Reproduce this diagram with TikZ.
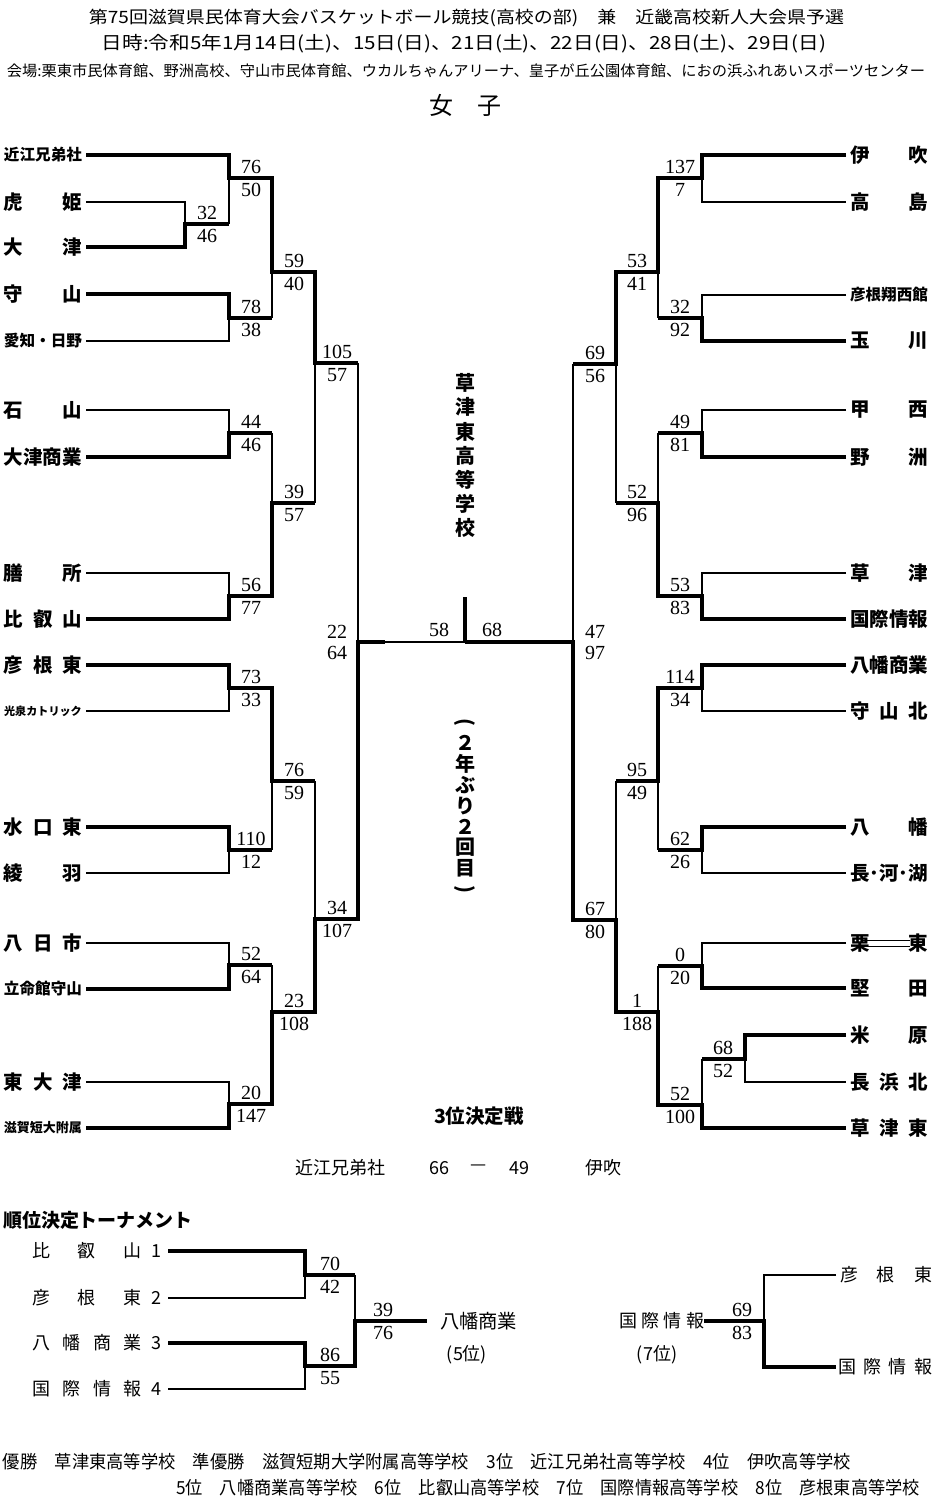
\documentclass[tikz,border=0pt]{standalone}
\usepackage{fontspec}
\usepackage{graphicx}
\setmainfont{Noto Sans CJK JP}
\newfontfamily\scf{Liberation Serif}
\newcommand{\spr}[1]{\makebox[78pt][s]{#1}}
\newcommand{\ctr}[1]{\makebox[78pt]{#1}}
\newcommand{\scr}[5]{\node[sc] (#1a) at (#2,#3-11) {#4}; \node[sc] (#1b) at (#2,#3+12) {#5};}
\begin{document}
\begin{tikzpicture}[x=1pt,y=-1pt,
  every node/.style={inner sep=0pt, outer sep=0pt},
  sc/.style={font=\scf\fontsize{20}{20}\selectfont},
  nm/.style={anchor=west, outer xsep=4pt, font=\bfseries\fontsize{19.5}{20}\selectfont},
  br/.style={line width=1.2pt},
  win/.style={line width=4pt},
  vt/.style={font=\bfseries\fontsize{20}{20}\selectfont},
  sm/.style={font=\fontsize{18}{18}\selectfont}]
\fill[white] (0,0) rectangle (932,1500);
\useasboundingbox (0,0) rectangle (932,1500);

% header
\node (h1) at (466.5,18) {\resizebox{755pt}{\height}{\fontsize{17}{17}\selectfont 第75回滋賀県民体育大会バスケットボール競技(高校の部)　兼　近畿高校新人大会県予選}};
\node (h2) at (464,44) {\resizebox{724pt}{\height}{\fontsize{18}{18}\selectfont 日時:令和5年1月14日(土)、15日(日)、21日(土)、22日(日)、28日(土)、29日(日)}};
\node (h3) at (466,71) {\resizebox{918pt}{\height}{\fontsize{15}{15}\selectfont 会場:栗東市民体育館、野洲高校、守山市民体育館、ウカルちゃんアリーナ、皇子が丘公園体育館、におの浜ふれあいスポーツセンター}};
\node (h4) at (465,105) {\fontsize{24}{24}\selectfont 女　子};

% left names
\node[nm] (L1) at (0,155) {\ctr{\fontsize{15.6}{16}\selectfont 近江兄弟社}};
\node[nm] (L2) at (0,202) {\spr{虎\hfill 姫}};
\node[nm] (L3) at (0,247) {\spr{大\hfill 津}};
\node[nm] (L4) at (0,294) {\spr{守\hfill 山}};
\node[nm] (L5) at (0,341) {\ctr{\fontsize{15.6}{16}\selectfont 愛知・日野}};
\node[nm] (L6) at (0,410) {\spr{石\hfill 山}};
\node[nm] (L7) at (0,457) {\ctr{大津商業}};
\node[nm] (L8) at (0,573) {\spr{膳\hfill 所}};
\node[nm] (L9) at (0,619) {\spr{比\hfill 叡\hfill 山}};
\node[nm] (L10) at (0,665) {\spr{彦\hfill 根\hfill 東}};
\node[nm] (L11) at (0,711) {\ctr{\fontsize{11.1}{12}\selectfont 光泉カトリック}};
\node[nm] (L12) at (0,827) {\spr{水\hfill 口\hfill 東}};
\node[nm] (L13) at (0,873) {\spr{綾\hfill 羽}};
\node[nm] (L14) at (0,943) {\spr{八\hfill 日\hfill 市}};
\node[nm] (L15) at (0,989) {\ctr{\fontsize{15.6}{16}\selectfont 立命館守山}};
\node[nm] (L16) at (0,1082) {\spr{東\hfill 大\hfill 津}};
\node[nm] (L17) at (0,1128) {\ctr{\fontsize{13}{14}\selectfont 滋賀短大附属}};

% right names
\node[nm] (R1) at (846,155) {\spr{伊\hfill 吹}};
\node[nm] (R2) at (846,202) {\spr{高\hfill 島}};
\node[nm] (R3) at (846,295) {\ctr{\fontsize{15.6}{16}\selectfont 彦根翔西館}};
\node[nm] (R4) at (846,341) {\spr{玉\hfill 川}};
\node[nm] (R5) at (846,410) {\spr{甲\hfill 西}};
\node[nm] (R6) at (846,457) {\spr{野\hfill 洲}};
\node[nm] (R7) at (846,573) {\spr{草\hfill 津}};
\node[nm] (R8) at (846,619) {\ctr{国際情報}};
\node[nm] (R9) at (846,665) {\ctr{八幡商業}};
\node[nm] (R10) at (846,711) {\spr{守\hfill 山\hfill 北}};
\node[nm] (R11) at (846,827) {\spr{八\hfill 幡}};
\node[nm] (R12) at (846,873) {\spr{長\hfill ･\hfill 河\hfill ･\hfill 湖}};
\node[nm] (R13) at (846,943) {\spr{栗\hfill 東}};
\node[nm] (R14) at (846,988) {\spr{堅\hfill 田}};
\node[nm] (R15) at (846,1035) {\spr{米\hfill 原}};
\node[nm] (R16) at (846,1082) {\spr{長\hfill 浜\hfill 北}};
\node[nm] (R17) at (846,1128) {\spr{草\hfill 津\hfill 東}};

% ---------- left bracket (thin) ----------
\draw[br] (L2.east) -- (185,202) -- (185,247) -- (L3.east);
\draw[br] (185,224) -- (229,224);
\draw[br] (L1.east) -- (229,155) -- (229,224);
\draw[br] (229,178) -- (272,178);
\draw[br] (L4.east) -- (229,294) -- (229,341) -- (L5.east);
\draw[br] (229,318) -- (272,318);
\draw[br] (272,178) -- (272,318);
\draw[br] (272,272) -- (315,272);
\draw[br] (L6.east) -- (229,410) -- (229,457) -- (L7.east);
\draw[br] (229,433) -- (272,433);
\draw[br] (L8.east) -- (229,573) -- (229,619) -- (L9.east);
\draw[br] (229,596) -- (272,596);
\draw[br] (272,433) -- (272,596);
\draw[br] (272,503) -- (315,503);
\draw[br] (315,272) -- (315,503);
\draw[br] (315,363) -- (358,363);
\draw[br] (L10.east) -- (229,665) -- (229,711) -- (L11.east);
\draw[br] (229,688) -- (272,688);
\draw[br] (L12.east) -- (229,827) -- (229,873) -- (L13.east);
\draw[br] (229,850) -- (272,850);
\draw[br] (272,688) -- (272,850);
\draw[br] (272,781) -- (315,781);
\draw[br] (L14.east) -- (229,943) -- (229,989) -- (L15.east);
\draw[br] (229,965) -- (272,965);
\draw[br] (L16.east) -- (229,1082) -- (229,1128) -- (L17.east);
\draw[br] (229,1104) -- (272,1104);
\draw[br] (272,965) -- (272,1104);
\draw[br] (272,1012) -- (315,1012);
\draw[br] (315,781) -- (315,1012);
\draw[br] (315,919) -- (358,919);
\draw[br] (358,363) -- (358,919);
\draw[br] (358,642) -- (573,642);

% ---------- right bracket (thin) ----------
\draw[br] (R1.west) -- (702,155) -- (702,202) -- (R2.west);
\draw[br] (702,178) -- (658,178);
\draw[br] (R3.west) -- (702,295) -- (702,341) -- (R4.west);
\draw[br] (702,318) -- (658,318);
\draw[br] (658,178) -- (658,318);
\draw[br] (658,272) -- (616,272);
\draw[br] (R5.west) -- (702,410) -- (702,457) -- (R6.west);
\draw[br] (702,433) -- (658,433);
\draw[br] (R7.west) -- (702,573) -- (702,619) -- (R8.west);
\draw[br] (702,596) -- (658,596);
\draw[br] (658,433) -- (658,596);
\draw[br] (658,503) -- (616,503);
\draw[br] (616,272) -- (616,503);
\draw[br] (616,364) -- (573,364);
\draw[br] (R9.west) -- (702,665) -- (702,711) -- (R10.west);
\draw[br] (702,688) -- (658,688);
\draw[br] (R11.west) -- (702,827) -- (702,873) -- (R12.west);
\draw[br] (702,850) -- (658,850);
\draw[br] (658,688) -- (658,850);
\draw[br] (658,781) -- (616,781);
\draw[br] (R13.west) -- (702,943) -- (702,988) -- (R14.west);
\draw[br] (702,966) -- (658,966);
\draw[br] (R15.west) -- (745,1035) -- (745,1082) -- (R16.west);
\draw[br] (745,1059) -- (702,1059);
\draw[br] (702,1059) -- (702,1128) -- (R17.west);
\draw[br] (702,1105) -- (658,1105);
\draw[br] (658,966) -- (658,1105);
\draw[br] (658,1012) -- (616,1012);
\draw[br] (616,781) -- (616,1012);
\draw[br] (616,920) -- (573,920);
\draw[br] (573,364) -- (573,920);
% strike through 栗東
\draw[line width=1pt] (863,940) -- (910,940);
\draw[line width=1pt] (863,946) -- (910,946);

% ---------- winners (thick) ----------
\draw[win] (L1.east) -- (229,155) -- (229,178) -- (272,178) -- (272,272) -- (315,272) -- (315,363) -- (358,363);
\draw[win] (L3.east) -- (185,247) -- (185,224) -- (229,224);
\draw[win] (L4.east) -- (229,294) -- (229,318) -- (272,318);
\draw[win] (L7.east) -- (229,457) -- (229,433) -- (272,433);
\draw[win] (L9.east) -- (229,619) -- (229,596) -- (272,596) -- (272,503) -- (315,503);
\draw[win] (L10.east) -- (229,665) -- (229,688) -- (272,688) -- (272,781) -- (315,781);
\draw[win] (L12.east) -- (229,827) -- (229,850) -- (272,850);
\draw[win] (L15.east) -- (229,989) -- (229,965) -- (272,965);
\draw[win] (L17.east) -- (229,1128) -- (229,1104) -- (272,1104) -- (272,1012) -- (315,1012) -- (315,919) -- (358,919) -- (358,642) -- (385,642);

\draw[win] (R1.west) -- (702,155) -- (702,178) -- (658,178) -- (658,272) -- (616,272) -- (616,364) -- (573,364);
\draw[win] (R4.west) -- (702,341) -- (702,318) -- (658,318);
\draw[win] (R6.west) -- (702,457) -- (702,433) -- (658,433);
\draw[win] (R8.west) -- (702,619) -- (702,596) -- (658,596) -- (658,503) -- (616,503);
\draw[win] (R9.west) -- (702,665) -- (702,688) -- (658,688) -- (658,781) -- (616,781);
\draw[win] (R11.west) -- (702,827) -- (702,850) -- (658,850);
\draw[win] (R14.west) -- (702,988) -- (702,966) -- (658,966);
\draw[win] (R15.west) -- (745,1035) -- (745,1059) -- (702,1059);
\draw[win] (R17.west) -- (702,1128) -- (702,1105) -- (658,1105) -- (658,1012) -- (616,1012) -- (616,920) -- (573,920) -- (573,642) -- (465,642);
\coordinate (champ) at (465,597);
\draw[win] (champ) -- (465,642);

% ---------- scores ----------
\scr{sA}{207}{224}{32}{46}
\scr{sB}{251}{178}{76}{50}
\scr{sC}{251}{318}{78}{38}
\scr{sD}{294}{272}{59}{40}
\scr{sE}{251}{433}{44}{46}
\scr{sF}{251}{596}{56}{77}
\scr{sG}{294}{503}{39}{57}
\scr{sH}{337}{363}{105}{57}
\scr{sI}{251}{688}{73}{33}
\scr{sJ}{251}{850}{110}{12}
\scr{sK}{294}{781}{76}{59}
\scr{sL}{251}{965}{52}{64}
\scr{sM}{251}{1104}{20}{147}
\scr{sN}{294}{1012}{23}{108}
\scr{sO}{337}{919}{34}{107}
\node[sc] (sPa) at (337,632) {22};
\node[sc] (sPb) at (337,653) {64};
\scr{r1}{680}{178}{137}{7}
\scr{r2}{680}{318}{32}{92}
\scr{r3}{637}{272}{53}{41}
\scr{r4}{680}{433}{49}{81}
\scr{r5}{680}{596}{53}{83}
\scr{r6}{637}{503}{52}{96}
\scr{r7}{595}{364}{69}{56}
\scr{r8}{680}{688}{114}{34}
\scr{r9}{680}{850}{62}{26}
\scr{r10}{637}{781}{95}{49}
\scr{r11}{680}{966}{0}{20}
\scr{r12}{723}{1059}{68}{52}
\scr{r13}{680}{1105}{52}{100}
\scr{r14}{637}{1012}{1}{188}
\scr{r15}{595}{920}{67}{80}
\node[sc] (rSa) at (595,632) {47};
\node[sc] (rSb) at (595,653) {97};
\node[sc] (fL) at (439,630) {58};
\node[sc] (fR) at (492,630) {68};

% vertical texts
\foreach \c [count=\i from 0] in {草,津,東,高,等,学,校}
  \node[vt] (v\i) at (465,383+24.2*\i) {\c};
\foreach \c [count=\i from 0] in {\rotatebox{-90}{(},２,年,ぶ,り,２,回,目,\rotatebox{-90}{)}}
  \node[vt] (p\i) at (465,722+20.9*\i) {\c};

% third place
\node[font=\bfseries\fontsize{19.5}{20}\selectfont] (t3) at (479,1116) {3位決定戦};
\node[sm, anchor=west] (t3a) at (295,1168) {近江兄弟社};
\node[sm] (t3b) at (439,1168) {66};
\node[sm] (t3c) at (479,1168) {—};
\node[sm] (t3d) at (519,1168) {49};
\node[sm, anchor=west] (t3e) at (585,1168) {伊吹};

% placement tournament
\node[anchor=west, font=\bfseries\fontsize{19}{19}\selectfont] (pt) at (3,1220) {順位決定トーナメント};
\node[sm, anchor=west] (q1) at (32,1251) {\makebox[110pt][s]{比\hfill 叡\hfill 山}\makebox[30pt]{1}};
\node[sm, anchor=west] (q2) at (32,1298) {\makebox[110pt][s]{彦\hfill 根\hfill 東}\makebox[30pt]{2}};
\node[sm, anchor=west] (q3) at (32,1343) {\makebox[110pt][s]{八\hfill 幡\hfill 商\hfill 業}\makebox[30pt]{3}};
\node[sm, anchor=west] (q4) at (32,1389) {\makebox[110pt][s]{国\hfill 際\hfill 情\hfill 報}\makebox[30pt]{4}};
\coordinate (qx) at (168,0);
\draw[br] (q1 -| qx) -- (305,1251) -- (305,1298) -- (q2 -| qx);
\draw[br] (305,1275) -- (355,1275);
\draw[br] (q3 -| qx) -- (305,1343) -- (305,1389) -- (q4 -| qx);
\draw[br] (305,1366) -- (355,1366);
\draw[br] (355,1275) -- (355,1366);
\node[font=\fontsize{19.3}{20}\selectfont, anchor=west] (y5) at (440,1321) {八幡商業};
\node[sm] (y5p) at (467,1355) {(5位)};
\draw[win] (q1 -| qx) -- (305,1251) -- (305,1275) -- (355,1275);
\draw[win] (q3 -| qx) -- (305,1343) -- (305,1366) -- (355,1366) -- (355,1321) -- ([xshift=-13pt]y5.west);
\scr{q70}{330}{1275}{70}{42}
\scr{q86}{330}{1366}{86}{55}
\scr{q39}{383}{1321}{39}{76}

\node[sm, anchor=east] (k7) at (704,1321) {\makebox[85pt][s]{国\hfill 際\hfill 情\hfill 報}};
\node[sm] (k7p) at (657,1355) {(7位)};
\node[sm, anchor=west] (kh) at (840,1275) {\makebox[92pt][s]{彦\hfill 根\hfill 東}};
\node[sm, anchor=west] (kk) at (838,1367) {\makebox[94pt][s]{国\hfill 際\hfill 情\hfill 報}};
\draw[br] ([xshift=-4pt]kh.west) -- (764,1275) -- (764,1367);
\draw[win] (k7.east) -- (764,1321) -- (764,1367) -- ([xshift=-2pt]kk.west);
\scr{q69}{742}{1321}{69}{83}

% results
\node[anchor=west] (w1) at (3,1462) {\resizebox{848pt}{\height}{\fontsize{18}{18}\selectfont 優勝　草津東高等学校　準優勝　滋賀短期大学附属高等学校　3位　近江兄弟社高等学校　4位　伊吹高等学校}};
\node[anchor=west] (w2) at (176,1488) {\resizebox{744pt}{\height}{\fontsize{18}{18}\selectfont 5位　八幡商業高等学校　6位　比叡山高等学校　7位　国際情報高等学校　8位　彦根東高等学校}};
\end{tikzpicture}
\end{document}
